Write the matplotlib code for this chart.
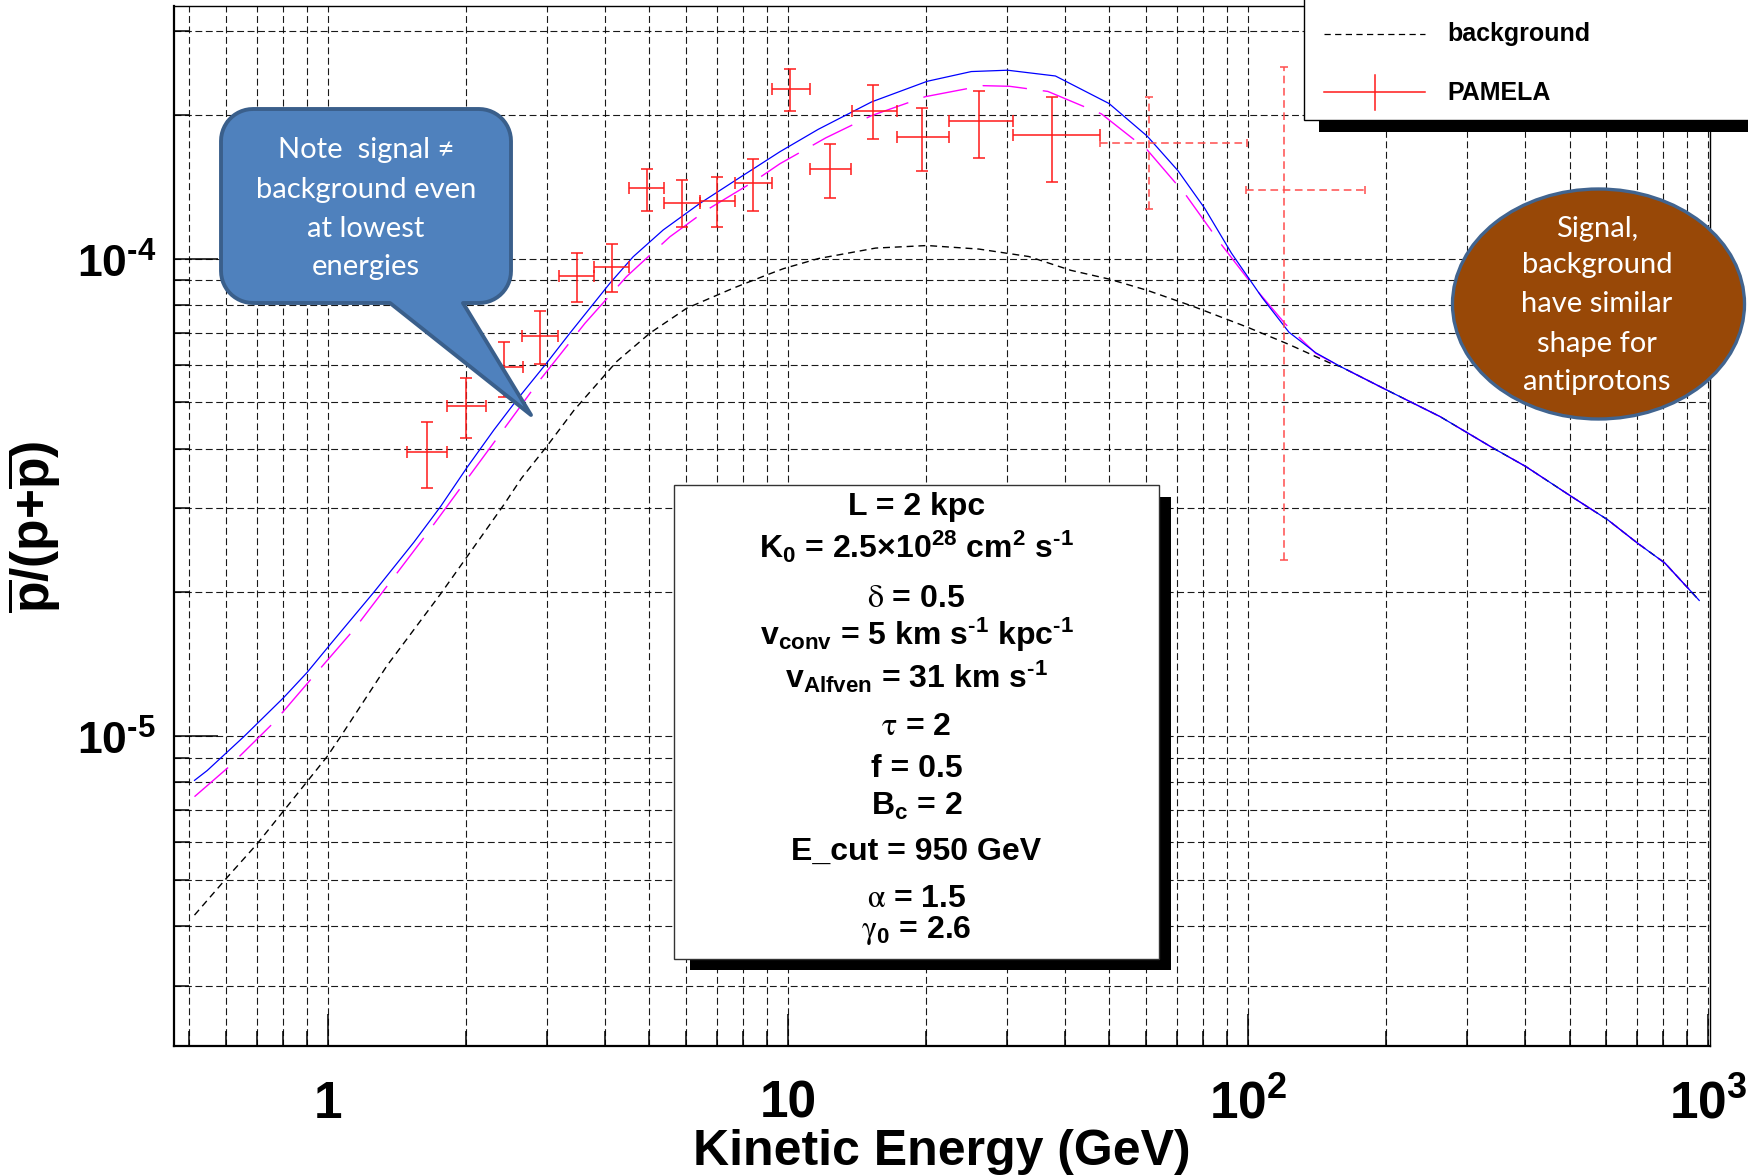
import numpy as np
import matplotlib
matplotlib.use("Agg")
import matplotlib.pyplot as plt
from matplotlib.patches import Rectangle, Ellipse, Polygon
from matplotlib.lines import Line2D
from matplotlib.ticker import FixedLocator, LogLocator, NullFormatter
from matplotlib.transforms import blended_transform_factory, ScaledTranslation

W, H = 1748, 1175

# PAMELA pbar/(p+pbar) points: bin centre, bin edges, ratio, error band
pam_e = [1.644, 1.995, 2.413, 2.894, 3.473, 4.150, 4.930, 5.873, 7.020, 8.38,
         10.10, 12.34, 15.34, 19.6, 26.01, 37.44, 61.0, 119.7]
pam_elo = [1.483, 1.811, 2.205, 2.638, 3.178, 3.793, 4.519, 5.384, 6.437, 7.67,
           9.22, 11.16, 13.78, 17.23, 22.44, 30.8, 47.7, 98.9]
pam_ehi = [1.811, 2.205, 2.651, 3.168, 3.793, 4.519, 5.384, 6.437, 7.67, 9.25,
           11.16, 13.71, 17.23, 22.44, 30.8, 47.7, 99.5, 180.0]
pam_r = [3.93e-5, 4.915e-5, 5.923e-5, 6.886e-5, 9.21e-5, 9.59e-5, 1.403e-4,
         1.305e-4, 1.318e-4, 1.441e-4, 2.264e-4, 1.539e-4, 2.036e-4, 1.798e-4,
         1.944e-4, 1.819e-4, 1.745e-4, 1.39e-4]
pam_rlo = [3.307e-5, 4.219e-5, 5.14e-5, 6.018e-5, 8.125e-5, 8.50e-5, 1.26e-4,
           1.163e-4, 1.163e-4, 1.26e-4, 2.04e-4, 1.339e-4, 1.78e-4, 1.528e-4,
           1.628e-4, 1.45e-4, 1.27e-4, 2.337e-5]
pam_rhi = [4.545e-5, 5.617e-5, 6.70e-5, 7.78e-5, 1.029e-4, 1.071e-4, 1.539e-4,
           1.46e-4, 1.48e-4, 1.615e-4, 2.50e-4, 1.737e-4, 2.313e-4, 2.067e-4,
           2.246e-4, 2.183e-4, 2.183e-4, 2.513e-4]
n_solid = 16   # last two bins are drawn dashed

# high-energy tail shared by all three model curves
tail_e = [159.0, 200.0, 261.4, 341.2, 401.6, 504.7, 605.4, 702.3, 805.9, 903.9, 957.0]
tail_r = [5.94e-5, 5.31e-5, 4.67e-5, 4.01e-5, 3.67e-5, 3.176e-5, 2.838e-5,
          2.537e-5, 2.304e-5, 2.043e-5, 1.924e-5]

# signal + background (blue)
sig_e = [0.513, 0.5465, 0.657, 0.802, 0.901, 1.014, 1.259, 1.538, 1.758, 2.008,
         2.296, 2.579, 2.988, 3.358, 4.103, 4.61, 5.357, 6.437, 7.604, 9.607,
         11.64, 15.21, 20.08, 25.04, 30.03, 38.15, 49.9, 60.42, 70.43, 80.55,
         92.1, 107.4, 122.8, 140.4] + tail_e
sig_r = [8.08e-6, 8.47e-6, 9.98e-6, 1.205e-5, 1.359e-5, 1.56e-5, 2.002e-5,
         2.547e-5, 3.026e-5, 3.656e-5, 4.378e-5, 5.07e-5, 6.04e-5, 6.98e-5,
         8.88e-5, 1.009e-4, 1.148e-4, 1.305e-4, 1.448e-4, 1.674e-4, 1.865e-4,
         2.129e-4, 2.351e-4, 2.464e-4, 2.48e-4, 2.412e-4, 2.112e-4, 1.804e-4,
         1.528e-4, 1.274e-4, 1.026e-4, 8.28e-5, 7.01e-5, 6.35e-5] + tail_r

# second model curve (magenta, long dashes)
mag_e = [0.513, 0.609, 0.763, 0.932, 1.139, 1.369, 1.644, 1.975, 2.374, 2.851,
         3.621, 4.46, 5.54, 6.66, 8.41, 9.61, 12.09, 15.21, 19.89, 26.52, 30.32,
         36.73, 48.03, 60.42, 73.19, 86.96, 103.3, 120.5, 140.4] + tail_e
mag_r = [7.47e-6, 8.62e-6, 1.068e-5, 1.337e-5, 1.671e-5, 2.108e-5, 2.659e-5,
         3.382e-5, 4.303e-5, 5.476e-5, 7.32e-5, 9.17e-5, 1.111e-4, 1.264e-4,
         1.448e-4, 1.58e-4, 1.79e-4, 1.993e-4, 2.183e-4, 2.302e-4, 2.295e-4,
         2.239e-4, 2.009e-4, 1.688e-4, 1.361e-4, 1.079e-4, 8.7e-5, 7.3e-5,
         6.33e-5] + tail_r

# background (black dashed)
bg_e = [0.513, 0.604, 0.702, 0.902, 0.997, 1.066, 1.346, 1.758, 2.008, 2.413,
        2.637, 2.997, 3.426, 4.243, 5.012, 6.024, 7.604, 8.99, 9.79, 11.64,
        15.51, 20.08, 26.01, 33.39, 41.21, 49.9, 60.42, 76.05, 99.5, 122.8,
        151.6] + tail_e
bg_r = [4.22e-6, 5.06e-6, 5.95e-6, 8.04e-6, 9.07e-6, 9.98e-6, 1.407e-5,
        1.985e-5, 2.377e-5, 3.052e-5, 3.47e-5, 4.053e-5, 4.81e-5, 6.086e-5,
        6.98e-5, 7.87e-5, 8.67e-5, 9.24e-5, 9.53e-5, 1.0e-4, 1.052e-4, 1.065e-4,
        1.047e-4, 1.01e-4, 9.45e-5, 9.06e-5, 8.58e-5, 7.94e-5, 7.19e-5, 6.61e-5,
        6.03e-5] + tail_r

x_ticks = [1, 10, 100, 1000]
x_ticklabels = ["1", "10", "10$^2$", "10$^3$"]
y_ticks = [1e-5, 1e-4]
y_ticklabels = [r"10$^{\text{-}5}$", r"10$^{\text{-}4}$"]

params = [
    ("L = 2 kpc", 515),
    ("K$_0$ = 2.5\u00d710$^{28}$ cm$^2$ s$^{\\text{-}1}$", 558),
    (r"$\mathsf{\delta}$ = 0.5", 607),
    (r"v$_{conv}$ = 5 km s$^{\text{-}1}$ kpc$^{\text{-}1}$", 645),
    (r"v$_{Alfven}$ = 31 km s$^{\text{-}1}$", 688),
    (r"$\mathsf{\tau}$ = 2", 735),
    ("f = 0.5", 777),
    ("B$_c$ = 2", 815),
    ("E_cut = 950 GeV", 860),
    (r"$\mathsf{\alpha}$ = 1.5", 907),
    (r"$\mathsf{\gamma}_0$ = 2.6", 938),
]
note_lines = [("Note  signal \u2260", 158), ("background even", 198),
              ("at lowest", 237), ("energies", 275)]
oval_lines = [("Signal,", 237), ("background", 273), ("have similar", 312),
              ("shape for", 352), ("antiprotons", 390)]

plt.rcParams["mathtext.fontset"] = "custom"
plt.rcParams["mathtext.rm"] = "Liberation Sans:bold"
plt.rcParams["mathtext.sf"] = "STIXGeneral"
plt.rcParams["mathtext.default"] = "regular"
SANS = ["Liberation Sans", "DejaVu Sans"]
CAL = ["Lato", "DejaVu Sans"]


def fp(x, y):
    """full-image pixel (y down) -> figure fraction"""
    return (x / W, 1 - y / H)


fig = plt.figure(figsize=(W / 100, H / 100), dpi=100)
ax = fig.add_axes([174 / W, 1 - 1046 / H, (1710 - 174) / W, (1046 - 6) / H])
ax.set_xscale("log")
ax.set_yscale("log")
ax.set_xlim(0.463, 1010)
ax.set_ylim(2.245e-6, 3.38e-4)

ax.xaxis.set_major_locator(FixedLocator(x_ticks))
ax.yaxis.set_major_locator(FixedLocator(y_ticks))
ax.xaxis.set_minor_locator(LogLocator(base=10, subs=np.arange(2, 10), numticks=30))
ax.yaxis.set_minor_locator(LogLocator(base=10, subs=np.arange(2, 10), numticks=30))
for a in (ax.xaxis, ax.yaxis):
    a.set_major_formatter(NullFormatter())
    a.set_minor_formatter(NullFormatter())
ax.tick_params(which="both", direction="in", top=False, right=False, width=1.1)
ax.tick_params(axis="x", which="major", length=23)
ax.tick_params(axis="y", which="major", length=32)
ax.tick_params(which="minor", length=11)
ax.grid(which="both", color="black", ls=(0, (6.2, 3.2)), lw=0.8, alpha=0.9)
for s in ("left", "bottom"):
    ax.spines[s].set_linewidth(1.6)
for s in ("top", "right"):
    ax.spines[s].set_linewidth(1.0)

# model curves
ax.plot(bg_e, bg_r, color="black", lw=1.0, ls=(0, (5, 3.5)), zorder=3)
ax.plot(mag_e, mag_r, color="#ff00ff", lw=1.0, ls=(0, (32, 11.5)), zorder=4)
ax.plot(sig_e, sig_r, color="#0000ff", lw=0.9, zorder=5)

# PAMELA error crosses
e = np.array(pam_e)
r = np.array(pam_r)
xerr = np.array([e - np.array(pam_elo), np.array(pam_ehi) - e])
yerr = np.array([r - np.array(pam_rlo), np.array(pam_rhi) - r])
ax.errorbar(e[:n_solid], r[:n_solid], xerr=xerr[:, :n_solid], yerr=yerr[:, :n_solid],
            fmt="none", ecolor="#ff1a1a", elinewidth=1.1, capsize=4.5,
            capthick=1.1, zorder=6)
eb = ax.errorbar(e[n_solid:], r[n_solid:], xerr=xerr[:, n_solid:],
                 yerr=yerr[:, n_solid:], fmt="none", ecolor="#ff4d4d",
                 elinewidth=1.1, capsize=3.0, capthick=1.1, zorder=6)
for lc in eb[2]:
    lc.set_linestyle((0, (5, 3)))

# tick labels (baseline aligned like the original)
tx = blended_transform_factory(ax.transData, fig.transFigure)
for v, lab in zip(x_ticks, x_ticklabels):
    ax.text(v, 1 - 1118 / H, lab, transform=tx, ha="center", va="baseline",
            family=SANS, weight="bold", fontsize=37, clip_on=False)
ty = blended_transform_factory(fig.transFigure, ax.transData) + \
    ScaledTranslation(0, -0.19, fig.dpi_scale_trans)
for v, lab in zip(y_ticks, y_ticklabels):
    ax.text(156 / W, v, lab, transform=ty, ha="right", va="baseline",
            family=SANS, weight="bold", fontsize=32, clip_on=False)

fig.text(*fp(942, 1165), "Kinetic Energy (GeV)", ha="center", va="baseline",
         family=SANS, weight="bold", fontsize=36)
fig.text(*fp(34, 527), r"$\overline{p}$/(p+$\overline{p}$)", rotation=90,
         ha="center", va="center", family=SANS, weight="bold", fontsize=37)

# parameter box with shadow
def frect(x0, y0, x1, y1, **kw):
    a = fp(x0, y1)
    return Rectangle(a, (x1 - x0) / W, (y1 - y0) / H, transform=fig.transFigure, **kw)

fig.add_artist(frect(690, 497, 1171, 970, facecolor="black", edgecolor="none", zorder=8))
fig.add_artist(frect(674, 485, 1159, 959, facecolor="white", edgecolor="#333333",
                     lw=1.0, zorder=9))
for txt, yb in params:
    fig.text(*fp(916.5, yb), txt, ha="center", va="baseline", family=SANS,
             weight="bold", fontsize=23, zorder=10)

# legend (cut by the top edge)
fig.add_artist(frect(1319, 10, 1770, 132, facecolor="black", edgecolor="none", zorder=8))
fig.add_artist(frect(1304, -10, 1760, 120, facecolor="white", edgecolor="black",
                     lw=1.0, zorder=9))
fig.add_artist(Line2D([1324 / W, 1425 / W], [1 - 34 / H, 1 - 34 / H], color="black",
                      lw=0.9, ls=(0, (5, 3.5)), transform=fig.transFigure, zorder=10))
fig.add_artist(Line2D([1324 / W, 1425 / W], [1 - 92 / H, 1 - 92 / H], color="#ff1a1a",
                      lw=1.1, transform=fig.transFigure, zorder=10))
fig.add_artist(Line2D([1375 / W, 1375 / W], [1 - 75 / H, 1 - 110 / H], color="#ff1a1a",
                      lw=1.1, transform=fig.transFigure, zorder=10))
fig.text(*fp(1447, 41.5), "background", ha="left", va="baseline", family=SANS,
         weight="bold", fontsize=18, zorder=11)
fig.text(*fp(1447, 100.5), "PAMELA", ha="left", va="baseline", family=SANS,
         weight="bold", fontsize=18, zorder=11)

# speech-bubble callout
def callout(x0, y0, x1, y1, rad, base_l, base_r, tip):
    pts = []

    def arc(cx, cy, a0, a1):
        t = np.radians(np.linspace(a0, a1, 14))
        return list(zip(cx + rad * np.cos(t), cy + rad * np.sin(t)))

    pts += arc(x1 - rad, y0 + rad, -90, 0)
    pts += arc(x1 - rad, y1 - rad, 0, 90)
    pts += [(base_r, y1), tip, (base_l, y1)]
    pts += arc(x0 + rad, y1 - rad, 90, 180)
    pts += arc(x0 + rad, y0 + rad, 180, 270)
    return [fp(x, y) for x, y in pts]

fig.add_artist(Polygon(callout(221, 109, 511, 303, 32, 390, 463, (531, 415)),
                       closed=True, facecolor="#4f81bd", edgecolor="#3a5f8b",
                       lw=2.8, joinstyle="round", transform=fig.transFigure, zorder=12))
for txt, yb in note_lines:
    fig.text(*fp(366, yb), txt, ha="center", va="baseline", family=CAL,
             fontsize=21, color="white", zorder=13)

# brown oval
fig.add_artist(Ellipse(fp(1598.5, 304), 292 / W, 230 / H, facecolor="#984807",
                       edgecolor="#41648f", lw=2.4, transform=fig.transFigure,
                       zorder=12))
for txt, yb in oval_lines:
    fig.text(*fp(1597, yb), txt, ha="center", va="baseline", family=CAL,
             fontsize=21, color="white", zorder=13)

fig.savefig("out.png", dpi=100)
